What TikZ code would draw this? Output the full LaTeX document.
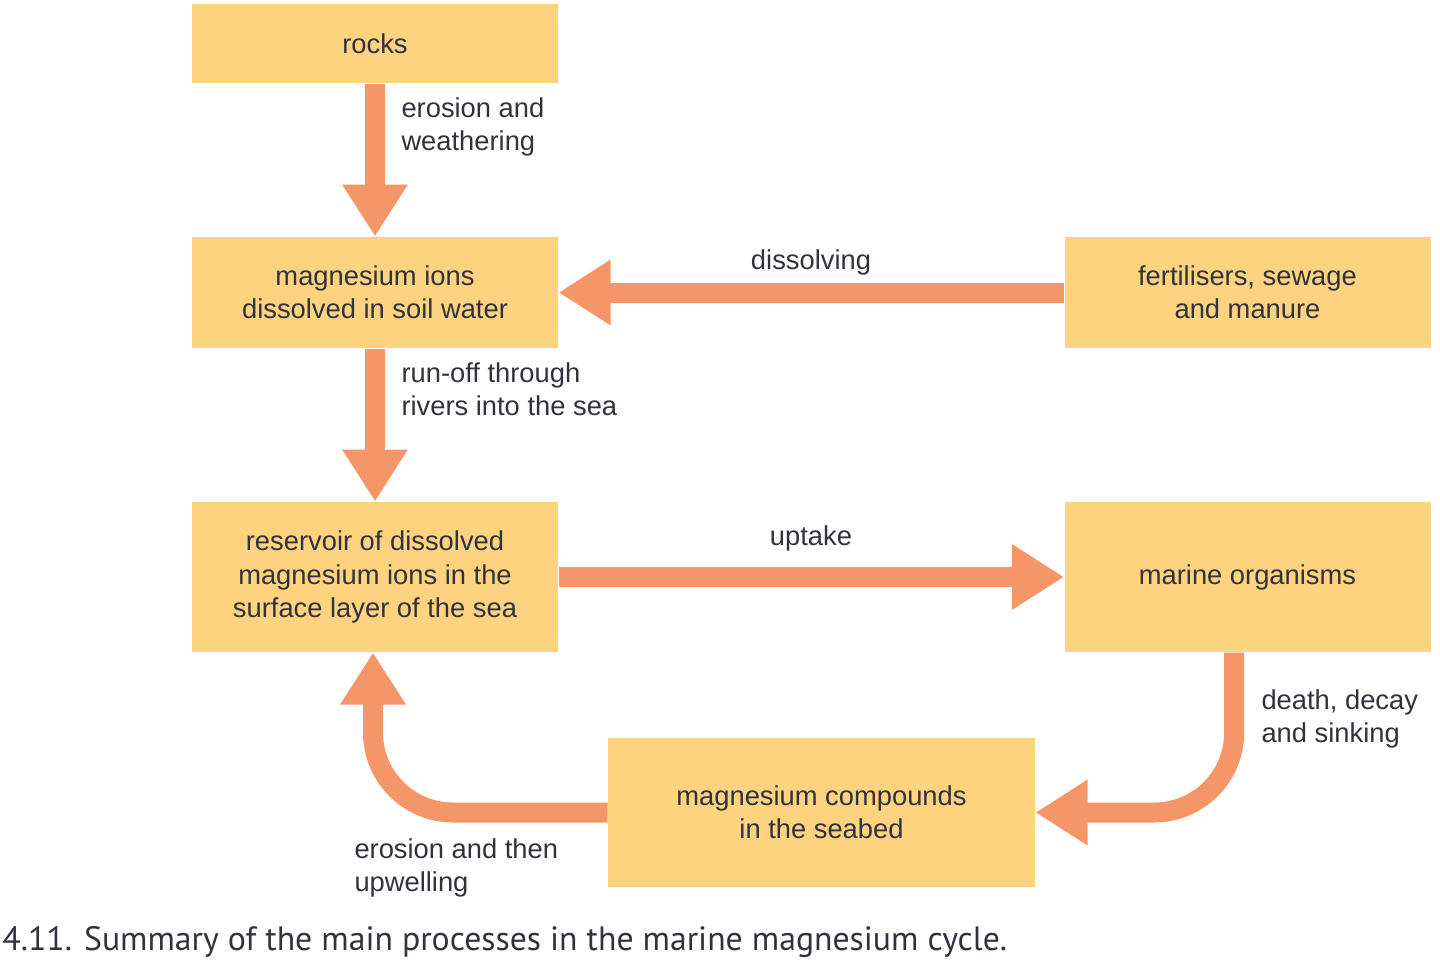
\documentclass[tikz,border=0pt]{standalone}
\usepackage{fontspec}
\setmainfont{Liberation Sans}
\newfontfamily\capfont{PT Sans}
\usetikzlibrary{arrows.meta}

\definecolor{boxfill}{RGB}{254,211,127}
\definecolor{flowcol}{RGB}{245,150,105}
\definecolor{txtcol}{RGB}{50,50,60}

\tikzset{every picture/.style={line width=0.75pt}}
\tikzset{
  box/.style={fill=boxfill, inner sep=0pt, align=center, text=txtcol, minimum width=274.5pt, font=\fontsize{20.5pt}{25pt}\selectfont},
  lbl/.style={inner sep=0pt, align=left, text=txtcol, font=\fontsize{20.5pt}{25pt}\selectfont},
  flow/.style={draw=flowcol, line width=15pt, -{Triangle[length=39pt,width=46.5pt]}}
}

\begin{document}
\begin{tikzpicture}[x=0.75pt,y=0.75pt,yscale=-1,xscale=1]
%set diagram left start at 0, and has height of 961
\useasboundingbox (0,0) rectangle (1440,961);

%Shape: Rectangle [id:rocks]
\node [box, minimum height=59.25pt] (rocks) at (375,43.5) {rocks};
%Shape: Rectangle [id:ions]
\node [box, minimum height=83.25pt] (ions) at (375,292.5) {magnesium ions\\dissolved in soil water};
%Shape: Rectangle [id:fert]
\node [box, minimum height=83.25pt] (fert) at (1247.5,292.5) {fertilisers, sewage\\and manure};
%Shape: Rectangle [id:resv]
\node [box, minimum height=112.5pt] (resv) at (375,577) {reservoir of dissolved\\magnesium ions in the\\surface layer of the sea};
%Shape: Rectangle [id:marine]
\node [box, minimum height=112.5pt] (marine) at (1247.5,577) {marine organisms};
%Shape: Rectangle [id:cmpd]
\node [box, minimum width=320.25pt, minimum height=111.75pt] (cmpd) at (821.5,812.5) {magnesium compounds\\in the seabed};

%Straight Lines [id:erode]
\draw [flow] (rocks) -- (ions) ;
%Straight Lines [id:runoff]
\draw [flow] (ions) -- (resv) ;
%Straight Lines [id:dissolve]
\draw [flow] (fert) -- (ions) ;
%Straight Lines [id:uptake]
\draw [flow] (resv) -- (marine) ;
%Curve Lines [id:sink]
\draw [flow, rounded corners=60pt] ([xshift=-10pt]marine.south) |- (cmpd.east) ;
%Curve Lines [id:upwell]
\draw [flow, rounded corners=60pt] (cmpd.west) -| ([xshift=-1.5pt]resv.south) ;

% Text Node
\node [lbl, anchor=west] (t_erode) at (401,127) {erosion and\\weathering};
% Text Node
\node [lbl] (t_dissolve) at (811,262) {dissolving};
% Text Node
\node [lbl, anchor=west] (t_runoff) at (401,389) {run-off through\\rivers into the sea};
% Text Node
\node [lbl] (t_uptake) at (811,538) {uptake};
% Text Node
\node [lbl, anchor=west] (t_sink) at (1261,719) {death, decay\\and sinking};
% Text Node
\node [lbl, anchor=west] (t_upwell) at (354,868) {erosion and then\\upwelling};
% Text Node
\node [anchor=base west, inner sep=0pt, text=txtcol, font=\capfont\fontsize{25.3pt}{30pt}\selectfont] (caption) at (2,950) {4.11. Summary of the main processes in the marine magnesium cycle.};

\end{tikzpicture}
\end{document}
